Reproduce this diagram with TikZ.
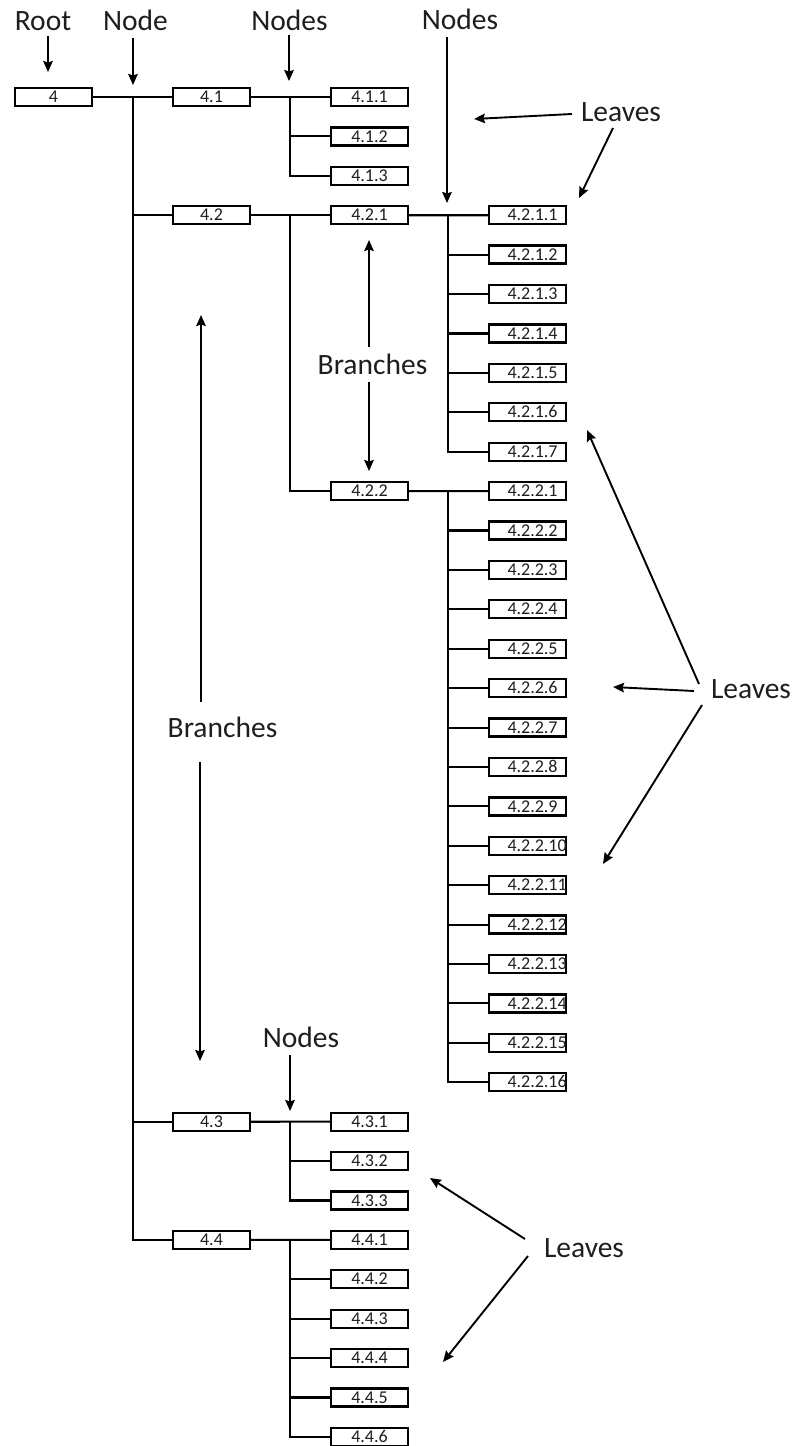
\documentclass[tikz,border=0pt]{standalone}
\usepackage{fontspec}
\setmainfont{Carlito}
\usetikzlibrary{arrows.meta}
\definecolor{ink}{HTML}{1E1E1E}
\begin{document}
\begin{tikzpicture}[x=1pt,y=-1pt,
  box/.style={draw=black, line width=2.3pt, minimum width=77pt, minimum height=18pt,
    inner sep=0pt, text height=11.3pt, text depth=0pt, text=ink,
    font=\fontsize{18}{18}\selectfont},
  leafL/.style={box, inner xsep=18.5pt, text width=40pt, align=left},
  conn/.style={draw=black, line width=2.1pt},
  lab/.style={font=\fontsize{29.5}{30}\selectfont, inner sep=0pt, anchor=base, text=ink},
  arr/.style={draw=black, line width=1.9pt, -{Stealth[length=11pt,width=9.5pt,inset=1.5pt]}}]
\useasboundingbox (0,0) rectangle (795,1446);

% ---------- boxes ----------
\node[box] (n4)   at (53.5,97) {4};
\node[box] (n41)  at (211.5,97) {4.1};
\node[box] (n411) at (369.5,97) {4.1.1};
\node[box] (n412) at (369.5,136.4) {4.1.2};
\node[box] (n413) at (369.5,175.8) {4.1.3};
\node[box] (n42)  at (211.5,215.2) {4.2};
\node[box] (n421) at (369.5,215.2) {4.2.1};
\node[box] (n422) at (369.5,491.1) {4.2.2};
\foreach \i in {1,...,7}
  \node[leafL] (L421-\i) at (527.5,{97+39.41*(2+\i)}) {4.2.1.\i};
\foreach \i in {1,...,16}
  \node[leafL] (L422-\i) at (527.5,{97+39.41*(9+\i)}) {4.2.2.\i};
\node[box] (n43)  at (211.5,1121.7) {4.3};
\foreach \i in {1,2,3}
  \node[box] (L43-\i) at (369.5,{97+39.41*(25+\i)}) {4.3.\i};
\node[box] (n44)  at (211.5,1239.9) {4.4};
\foreach \i in {1,...,6}
  \node[box] (L44-\i) at (369.5,{97+39.41*(28+\i)}) {4.4.\i};

% ---------- connectors ----------
\coordinate (t)    at (133,97);
\coordinate (j41)  at (290,97);
\coordinate (j42)  at (290,215.2);
\coordinate (j421) at (448,215.2);
\coordinate (j422) at (448,491.1);
\coordinate (j43)  at (290,1121.7);
\coordinate (j44)  at (290,1239.9);

\draw[conn] (n4.east) -- (n41.west);
\draw[conn] (t) |- (n44.west);
\foreach \n in {n42,n43} \draw[conn] (t |- \n.west) -- (\n.west);

\draw[conn] (n41.east) -- (n411.west);
\draw[conn] (j41) |- (n413.west);
\draw[conn] (j41 |- n412.west) -- (n412.west);

\draw[conn] (n42.east) -- (n421.west);
\draw[conn] (j42) |- (n422.west);

\draw[conn] (n421.east) -- (L421-1.west);
\draw[conn] (j421) |- (L421-7.west);
\foreach \i in {2,...,6} \draw[conn] (j421 |- L421-\i.west) -- (L421-\i.west);

\draw[conn] (n422.east) -- (L422-1.west);
\draw[conn] (j422) |- (L422-16.west);
\foreach \i in {2,...,15} \draw[conn] (j422 |- L422-\i.west) -- (L422-\i.west);

\draw[conn] (n43.east) -- (L43-1.west);
\draw[conn] (j43) |- (L43-3.west);
\draw[conn] (j43 |- L43-2.west) -- (L43-2.west);

\draw[conn] (n44.east) -- (L44-1.west);
\draw[conn] (j44) |- (L44-6.west);
\foreach \i in {2,...,5} \draw[conn] (j44 |- L44-\i.west) -- (L44-\i.west);

% ---------- annotations ----------
\node[lab] (tRoot)   at (43,30)    {Root};
\node[lab] (tNode)   at (135.5,30) {Node};
\node[lab] (tNodesA) at (289.5,30) {Nodes};
\node[lab] (tNodesB) at (460,29)   {Nodes};
\node[lab] (tLeavesA) at (621,121) {Leaves};
\node[lab] (tBranchA) at (372.5,374) {Branches};
\node[lab] (tBranchB) at (222.5,737) {Branches};
\node[lab] (tLeavesB) at (751,698) {Leaves};
\node[lab] (tNodesC) at (301,1047) {Nodes};
\node[lab] (tLeavesC) at (584,1257) {Leaves};

\coordinate (a1s) at (48,36);    \coordinate (a1e) at (48,72);
\coordinate (a2s) at (133,38);   \coordinate (a2e) at (133,85);
\coordinate (a3s) at (289,35);   \coordinate (a3e) at (289,81);
\coordinate (a4s) at (447,37);   \coordinate (a4e) at (447,203);
\coordinate (a5s) at (572,114);  \coordinate (a5e) at (474,119);
\coordinate (a6s) at (613,128);  \coordinate (a6e) at (579,198);
\coordinate (a7s) at (369,347);  \coordinate (a7e) at (369,240);
\coordinate (a8s) at (369,382);  \coordinate (a8e) at (369,471);
\coordinate (a9s) at (201,702);  \coordinate (a9e) at (201,315);
\coordinate (a10s) at (200,762); \coordinate (a10e) at (200,1061);
\coordinate (a11s) at (699,684); \coordinate (a11e) at (587,430);
\coordinate (a12s) at (694,691); \coordinate (a12e) at (613,687);
\coordinate (a13s) at (702,705); \coordinate (a13e) at (603,864);
\coordinate (a14s) at (290,1055);\coordinate (a14e) at (290,1111);
\coordinate (a15s) at (525,1239);\coordinate (a15e) at (430,1178);
\coordinate (a16s) at (528,1256);\coordinate (a16e) at (443,1362);

\foreach \k in {1,...,16} \draw[arr] (a\k s) -- (a\k e);
\end{tikzpicture}
\end{document}
